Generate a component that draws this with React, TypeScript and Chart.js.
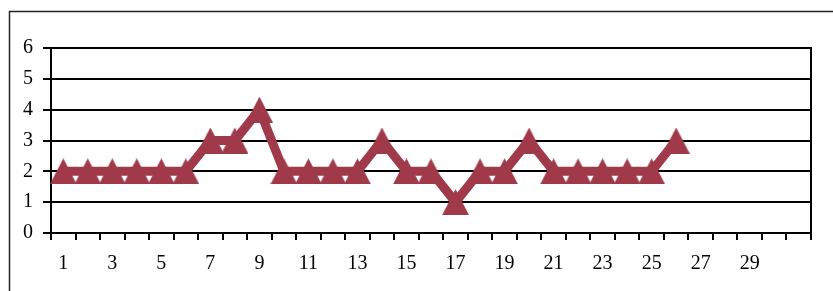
import React, { useEffect, useRef } from "react";
import { Chart, registerables } from "chart.js";

Chart.register(...registerables);

const categories: string[] = Array.from({ length: 31 }, (_, i) => String(i + 1));
const tickLabels: string[] = ["1", "", "3", "", "5", "", "7", "", "9", "", "11", "", "13", "", "15", "", "17", "", "19", "", "21", "", "23", "", "25", "", "27", "", "29", "", ""];
const values: (number | null)[] = [2, 2, 2, 2, 2, 2, 3, 3, 4, 2, 2, 2, 2, 3, 2, 2, 1, 2, 2, 3, 2, 2, 2, 2, 2, 3, null, null, null, null, null];
const yTicks: number[] = [0, 1, 2, 3, 4, 5, 6];

const LINE = "#a03a4a";
const FONT = "'Liberation Serif', 'Times New Roman', serif";

function makeTriangle(): HTMLCanvasElement {
  const c = document.createElement("canvas");
  c.width = 27;
  c.height = 26;
  const g = c.getContext("2d")!;
  g.fillStyle = LINE;
  g.beginPath();
  g.moveTo(13.5, 0);
  g.lineTo(27, 26);
  g.lineTo(0, 26);
  g.closePath();
  g.fill();
  return c;
}

const framePlugin = {
  id: "frame",
  afterDraw(chart: any) {
    const { ctx, chartArea } = chart;
    ctx.save();
    ctx.strokeStyle = "#222";
    ctx.lineWidth = 1.5;
    ctx.strokeRect(9.5, 11.5, 900, 400);
    ctx.lineWidth = 2;
    ctx.strokeStyle = "#000";
    ctx.beginPath();
    ctx.moveTo(chartArea.right, chartArea.top - 1);
    ctx.lineTo(chartArea.right, chartArea.bottom + 7);
    ctx.stroke();
    ctx.restore();
  },
};

export default function App() {
  const ref = useRef<HTMLCanvasElement>(null);
  useEffect(() => {
    if (!ref.current) return;
    const tri = makeTriangle();
    const chart = new Chart(ref.current, {
      type: "line",
      data: {
        labels: categories,
        datasets: [
          {
            data: values,
            borderColor: LINE,
            backgroundColor: LINE,
            borderWidth: 9,
            pointStyle: tri as any,
            pointRadius: 13,
            pointBackgroundColor: LINE,
            pointBorderColor: LINE,
            tension: 0,
            spanGaps: false,
          },
        ],
      },
      options: {
        responsive: false,
        animation: false,
        layout: { padding: { top: 48, right: 16, left: 0, bottom: 0 } },
        plugins: { legend: { display: false }, tooltip: { enabled: false } },
        scales: {
          x: {
            offset: true,
            afterFit: (s: any) => {
              s.height = 58;
            },
            grid: {
              offset: true,
              drawOnChartArea: false,
              drawTicks: true,
              tickLength: 7,
              color: "#000",
              lineWidth: 2,
            },
            border: { color: "#000", width: 2 },
            ticks: {
              autoSkip: false,
              maxRotation: 0,
              color: "#000",
              padding: 12,
              font: { family: FONT, size: 20 },
              callback: (_v: any, i: number) => tickLabels[i],
            },
          },
          y: {
            min: 0,
            max: 6,
            afterFit: (s: any) => {
              s.width = 51;
            },
            afterBuildTicks: (s: any) => {
              s.ticks = yTicks.map((v) => ({ value: v }));
            },
            grid: {
              color: "#000",
              lineWidth: 2,
              drawTicks: true,
              tickLength: 8,
            },
            border: { color: "#000", width: 2 },
            ticks: {
              color: "#000",
              padding: 10,
              font: { family: FONT, size: 20 },
            },
          },
        },
      },
      plugins: [framePlugin],
    });
    return () => chart.destroy();
  }, []);
  return (
    <div style={{ position: "absolute", left: 0, top: 0, width: 833, height: 291, background: "#fff" }}>
      <canvas ref={ref} width={833} height={291} style={{ display: "block" }} />
    </div>
  );
}
